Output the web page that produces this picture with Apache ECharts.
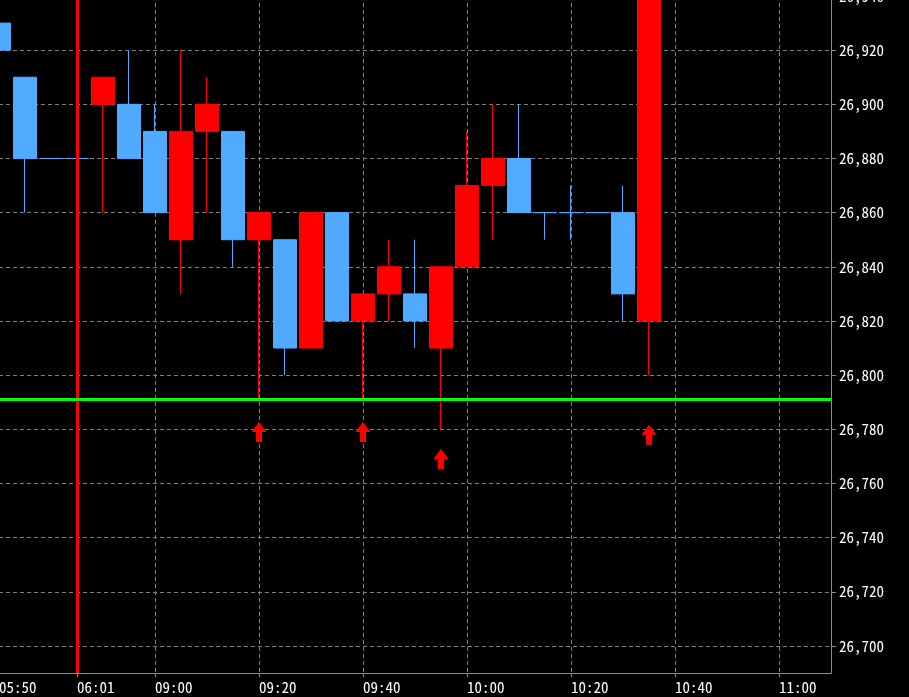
<!DOCTYPE html>
<html>
<head>
<meta charset="utf-8">
<script src="https://cdn.jsdelivr.net/npm/echarts@6/dist/echarts.min.js"></script>
<style>
html,body{margin:0;padding:0;background:#000;}
#c{width:909px;height:697px;}
</style>
</head>
<body>
<div id="c"></div>
<script>
// ---- data ----
var categories = ["05:50","05:55","06:00","06:01","08:50","08:55","09:00","09:05","09:10","09:15","09:20","09:25","09:30","09:35","09:40","09:45","09:50","09:55","10:00","10:05","10:10","10:15","10:20","10:25","10:30","10:35","10:40","10:45","10:50","10:55","11:00","11:05","11:10"];
var tickLabels = ["05:50","06:01","09:00","09:20","09:40","10:00","10:20","10:40","11:00"];
var opens  = [26930,26910,26880,26880,26900,26900,26890,26850,26890,26890,26850,26850,26810,26860,26820,26830,26830,26810,26840,26870,26880,26860,26860,26860,26860,26820];
var closes = [26920,26880,26880,26880,26910,26880,26860,26890,26900,26850,26860,26810,26860,26820,26830,26840,26820,26840,26870,26880,26860,26860,26860,26860,26830,26960];
var lows   = [26920,26860,26880,26880,26860,26880,26860,26830,26860,26840,26790,26800,26810,26820,26790,26820,26810,26780,26840,26850,26860,26850,26850,26860,26820,26800];
var highs  = [26930,26910,26880,26880,26910,26920,26900,26920,26910,26890,26860,26850,26860,26860,26830,26850,26850,26840,26890,26900,26900,26860,26870,26860,26870,26970];
var signalIdx = [10,14,17,25];
var signalVal = [26779,26779,26769,26778];
var sessionLine = "06:01";
var supportLevel = 26791;
var yTickLabels = [26700,26720,26740,26760,26780,26800,26820,26840,26860,26880,26900,26920,26940];

var UP = '#ff0000', DOWN = '#50aaff';
var candleData = opens.map(function(o, i){
  var item = {value: [o, closes[i], lows[i], highs[i]]};
  if (o === closes[i]) {
    item.itemStyle = {color: DOWN, color0: DOWN, borderColor: DOWN, borderColor0: DOWN};
  }
  return item;
});
var arrowData = signalIdx.map(function(ix, i){ return [categories[ix], signalVal[i]]; });

var font = "'Noto Sans Mono CJK JP','DejaVu Sans Mono',monospace";
var showIdx = function(idx, val){ return tickLabels.indexOf(categories[idx]) >= 0; };

var chart = echarts.init(document.getElementById('c'));
chart.setOption({
  backgroundColor: '#000',
  animation: false,
  grid: {left: -1, right: 78, top: -4, bottom: 24, containLabel: false, outerBoundsMode: 'none'},
  xAxis: {
    type: 'category',
    data: categories,
    boundaryGap: false,
    axisLine: {lineStyle: {color: '#8c8c8c', width: 1}},
    axisTick: {show: true, interval: showIdx, length: 4, lineStyle: {color: '#8c8c8c'}},
    axisLabel: {interval: showIdx, color: '#fff', fontFamily: font, fontSize: 15, align: 'left', margin: 7, hideOverlap: false},
    splitLine: {show: true, interval: showIdx, lineStyle: {color: '#808080', type: [4,3], width: 1}}
  },
  yAxis: {
    type: 'value',
    position: 'right',
    min: 26690,
    max: 26940,
    splitNumber: 12,
    axisLine: {show: true, lineStyle: {color: '#8c8c8c', width: 1}},
    axisTick: {show: true, length: 5, lineStyle: {color: '#8c8c8c'}},
    axisLabel: {
      color: '#fff', fontFamily: font, fontSize: 15, margin: 8,
      showMinLabel: false, hideOverlap: false,
      formatter: function(v){ return yTickLabels.indexOf(v) >= 0 ? v.toLocaleString('en-US') : ''; }
    },
    splitLine: {show: true, lineStyle: {color: '#808080', type: [4,3], width: 1}}
  },
  series: [
    {
      type: 'candlestick',
      data: candleData,
      barWidth: 23,
      itemStyle: {color: UP, color0: DOWN, borderColor: UP, borderColor0: DOWN, borderWidth: 1},
      markLine: {
        silent: true,
        symbol: ['none','none'],
        label: {show: false},
        animation: false,
        data: [
          {xAxis: sessionLine, lineStyle: {color: '#ff0000', width: 3, type: 'solid', opacity: 1}},
          {yAxis: supportLevel, lineStyle: {color: '#00ff00', width: 3, type: 'solid', opacity: 1}}
        ]
      }
    },
    {
      type: 'scatter',
      data: arrowData,
      symbol: 'path://M7.5,0 L15,10 L10.5,10 L10.5,20 L4.5,20 L4.5,10 L0,10 Z',
      symbolSize: [15, 20],
      itemStyle: {color: '#ff0000', opacity: 1},
      z: 5
    }
  ]
});
</script>
</body>
</html>
